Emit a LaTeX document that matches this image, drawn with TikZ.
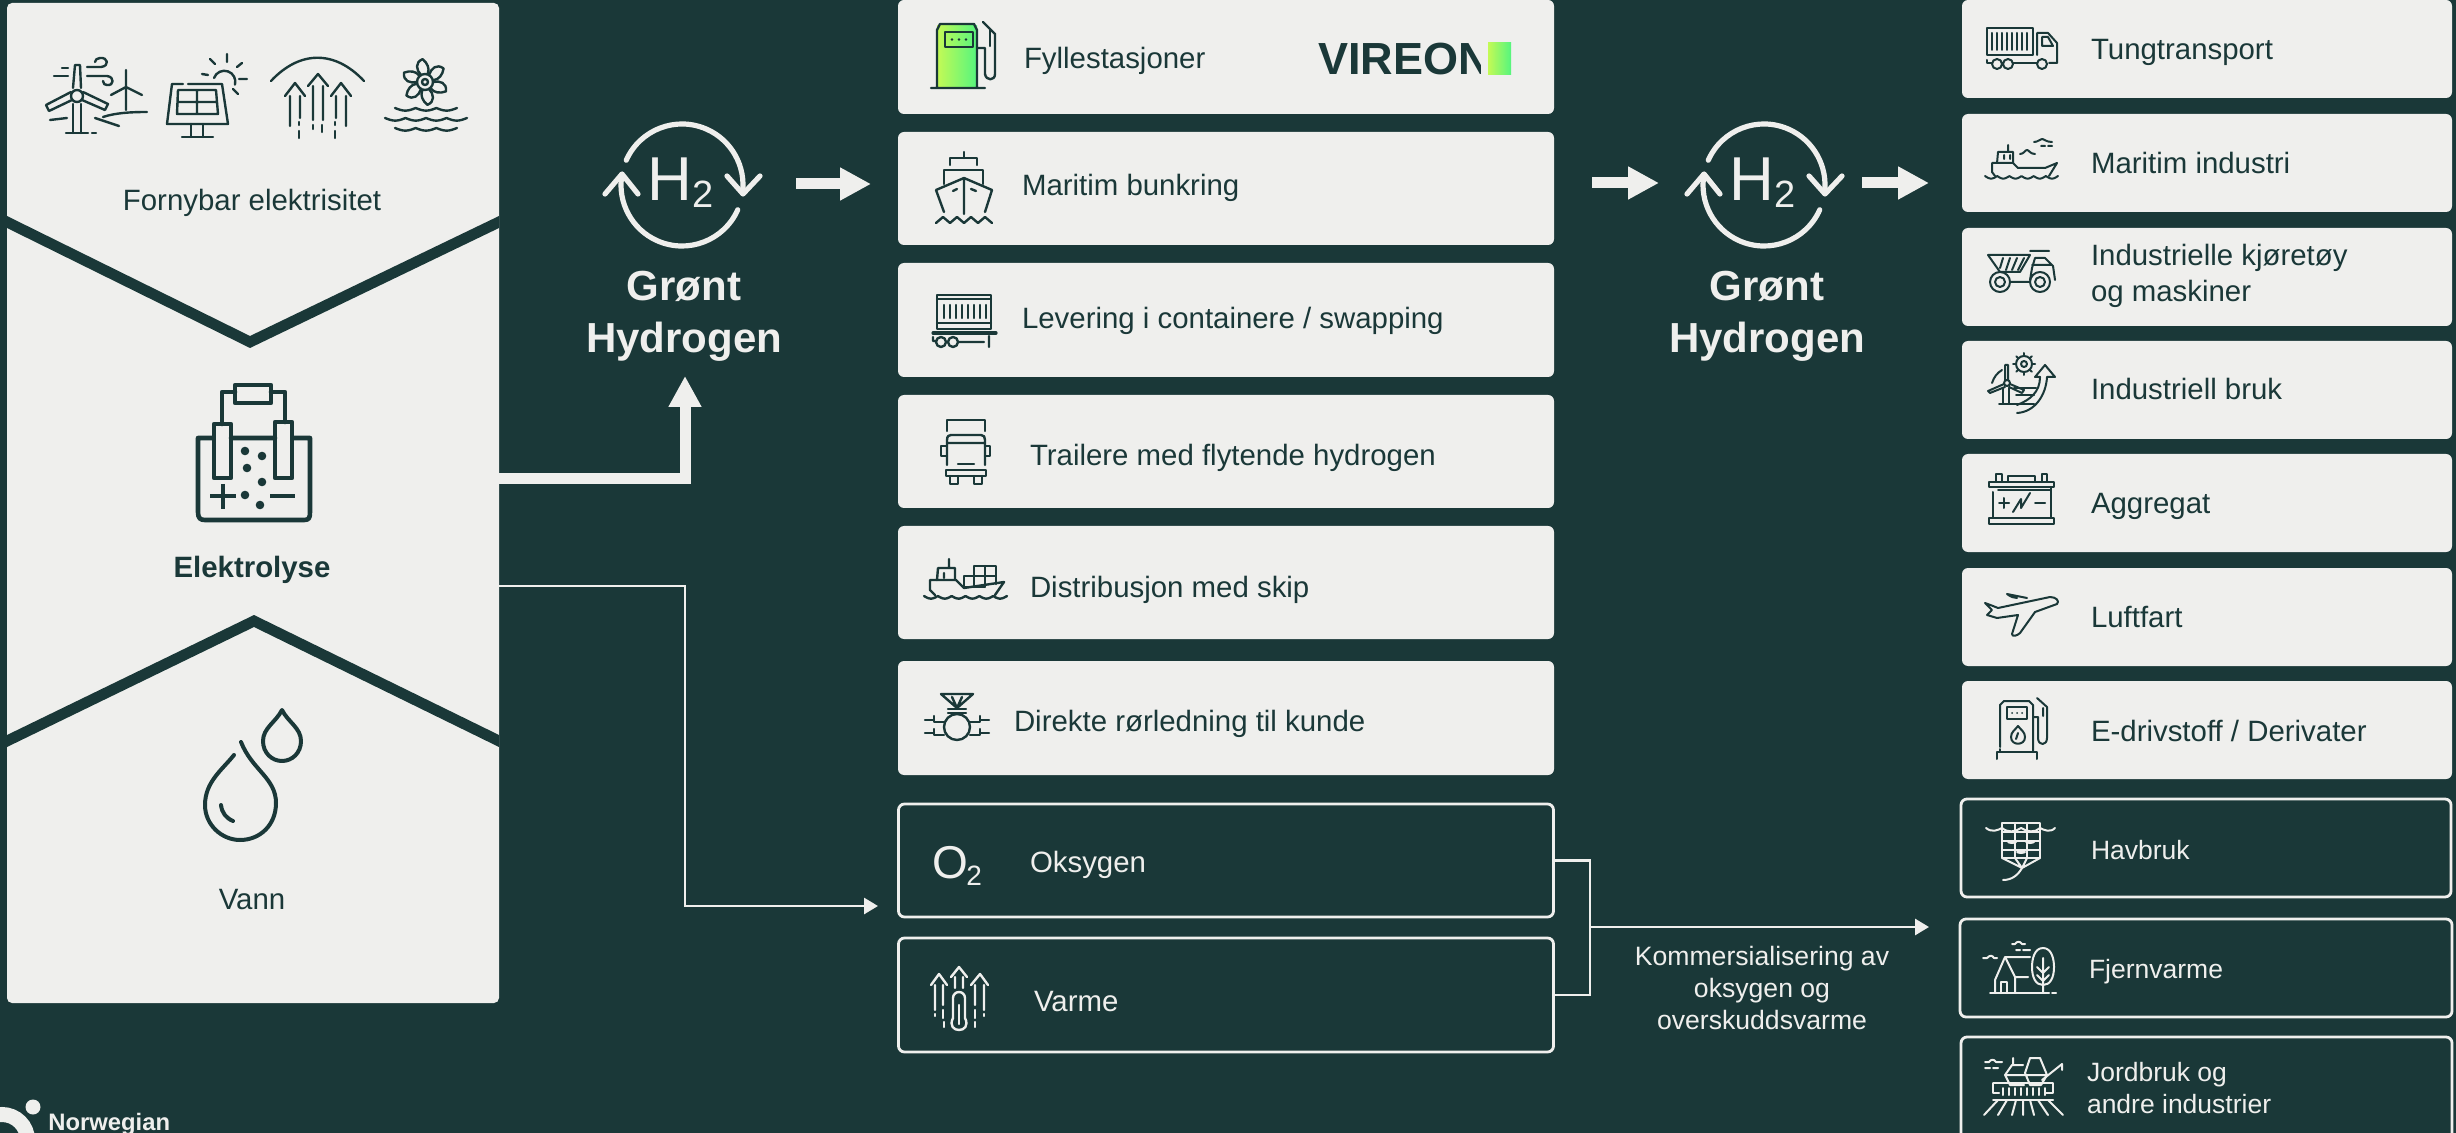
\documentclass[tikz,border=0pt]{standalone}
\usepackage{fontspec}
\setmainfont{Liberation Sans}
\usetikzlibrary{arrows.meta,calc,shapes.geometric}
\definecolor{ink}{HTML}{1A3838}
\definecolor{paper}{HTML}{EFEFED}
\definecolor{limeA}{HTML}{C4FA55}
\definecolor{limeB}{HTML}{55F57E}
\newcommand\fpx[1]{\fontsize{#1}{#1}\selectfont}
\newcommand\wavy[5]{\draw[#1] plot[domain=#2:#3,samples=90] (\x,{#4+2.6*abs(sin(180*#5/(#3-#2)*(\x-#2)))});}
\tikzset{
  lbox/.style={fill=paper,rounded corners=3pt,inner sep=0,outer sep=0,anchor=north west,minimum width=328pt},
  rbox/.style={fill=paper,rounded corners=3pt,inner sep=0,outer sep=0,anchor=north west,minimum width=245pt,minimum height=49pt},
  obox/.style={draw=paper,line width=1.4pt,rounded corners=3pt,inner sep=0,outer sep=0,anchor=north west},
  txt/.style={anchor=base west,inner sep=0,outer sep=0,text=ink,font=\fpx{14.7},yshift=-0.5pt},
  ltxt/.style={txt,text=paper},
  ctxt/.style={anchor=base,inner sep=0,outer sep=0,text=ink,font=\fpx{14.7},yshift=-0.4pt},
  htitle/.style={anchor=base,inner sep=0,outer sep=0,text=paper,font=\fpx{21}\bfseries,yshift=-0.5pt},
  dk/.style={draw=ink,line width=1.2pt,line cap=round,line join=round},
  lt/.style={draw=paper,line width=1.2pt,line cap=round,line join=round},
  hv/.style={draw=ink,line width=2.3pt,line cap=round,line join=round},
  bigarrow/.style={draw=paper,line width=5.5pt,-{Triangle[length=15.5pt,width=15.5pt,fill=paper]}},
  thinarrow/.style={draw=paper,line width=1.4pt,-{Triangle[length=7pt,width=8pt,fill=paper]}},
  thinline/.style={draw=paper,line width=1.4pt},
  cyc/.style={draw=paper,line width=2.6pt,line cap=round,line join=round},
}
\newcommand\hcycle[1]{%
 \begin{scope}[shift={(#1,0)}]
  \draw[cyc] (682,185) ++(204:61) arc[start angle=204,end angle=367.5,radius=61];
  \draw[cyc] (682,185) ++(24:61) arc[start angle=24,end angle=189.5,radius=61];
  \draw[cyc] (727,176) -- (743,194) -- (760,176);
  \draw[cyc] (605,194) -- (622,174) -- (638,194);
 \end{scope}}
\begin{document}
\begin{tikzpicture}[x=0.5pt,y=-0.5pt]
\useasboundingbox (0,0) rectangle (2456,1133);
\clip (0,0) rectangle (2456,1133);
\fill[ink] (0,0) rectangle (2456,1133);

%% left panel
\node[fill=paper,rounded corners=2.5pt,inner sep=0,outer sep=0,anchor=north west,minimum width=246pt,minimum height=500pt] (panel) at (7,3) {};
\fill[ink] (7,216) -- (250,336) -- (499,216) -- (499,228) -- (250,348) -- (7,228) -- cycle;
\fill[ink] (7,735) -- (254,615) -- (499,735) -- (499,747) -- (254,627) -- (7,747) -- cycle;
\node[ctxt] (tfornybar) at (252,210) {Fornybar elektrisitet};
\node[ctxt,font=\fpx{14.7}\bfseries] (telektrolyse) at (252,577) {Elektrolyse};
\node[ctxt] (tvann) at (252,909) {Vann};

%% wind
\draw[dk] (73,88) -- (75,65) -- (80,65) -- (81,88);
\draw[dk] (77,96) circle[radius=6];
\draw[dk] (73,104) -- (73,133) (81,104) -- (81,133) (66,133) -- (88,133) (92,133) -- (96,133);
\draw[dk] (71,92) -- (46,105) -- (49,111) -- (72,100);
\draw[dk] (83,92) -- (108,104) -- (105,110) -- (82,100);
\draw[dk] (54,76) -- (68,76) (62,68) -- (68,68);
\draw[dk] (87,67) -- (101,67) .. controls (110,66) and (108,57) .. (100,58) .. controls (97,58) and (95,60) .. (95,62);
\draw[dk] (87,76) -- (107,76) .. controls (115,77) and (114,86) .. (107,85) .. controls (105,85) and (103,84) .. (103,81);
\draw[dk] (126,70) -- (126,110) (126,87) -- (111,95) (126,87) -- (142,95);
\draw[dk] (103,117) .. controls (115,113) and (130,112) .. (147,112) (95,118) -- (119,126) (50,120) -- (67,118);
%% solar
\draw[dk] (183,84) -- (172,84) -- (167,124) -- (228,124) -- (222,84) -- (188,84);
\draw[dk] (178,90) -- (216,90) -- (218,114) -- (177,114) -- cycle (197,90) -- (197,114) (178,102) -- (217,102);
\draw[dk] (191,124) -- (191,137) (203,124) -- (203,137) (182,137) -- (213,137);
\draw[dk] (214,78) arc[start angle=200,end angle=375,radius=11];
\draw[dk] (210,59) -- (215,64) (227,54) -- (227,62) (242,63) -- (237,67) (247,79) -- (239,79) (238,94) -- (233,89) (202,74) -- (208,75);
%% geothermal
\draw[dk] (271,81) .. controls (300,50) and (335,50) .. (364,81);
\draw[dk] (285,96) -- (295,83) -- (305,96) (290,96) -- (290,126) (300,96) -- (300,118);
\draw[dk] (308,86) -- (318,74) -- (328,86) (313,86) -- (313,120) (323,86) -- (323,120);
\draw[dk] (331,96) -- (341,83) -- (351,96) (336,96) -- (336,118) (346,96) -- (346,126);
\draw[dk] (299,122) -- (299,125) (299,131) -- (299,138) (313,125) -- (313,129) (322,125) -- (322,132) (335,122) -- (335,125) (335,131) -- (335,138);
%% hydro
\draw[dk] (425,82) circle[radius=3] (425,82) circle[radius=8];
\foreach \a in {0,60,...,300}{
  \draw[dk] ($(425,82)+(\a:8)$) .. controls ($(425,82)+(\a-6:15)$) and ($(425,82)+(\a+2:22)$) .. ($(425,82)+(\a+24:23)$) .. controls ($(425,82)+(\a+38:19)$) and ($(425,82)+(\a+50:14)$) .. ($(425,82)+(\a+48:9)$);
}
\wavy{dk}{395}{457}{108}{3}
\wavy{dk}{385}{467}{118}{4}
\wavy{dk}{395}{457}{128}{3}
%% electrolysis
\draw[hv] (213,438) -- (198,438) -- (198,512) .. controls (198,518) and (200,520) .. (205,520) -- (304,520) .. controls (309,520) and (310,518) .. (310,512) -- (310,438) -- (293,438) (231,438) -- (275,438);
\draw[hv] (214,424) rectangle (231,478) (275,422) rectangle (292,478);
\draw[hv] (222,424) -- (222,392) -- (235,392) (285,422) -- (285,392) -- (271,392);
\draw[hv] (235,385) rectangle (271,403);
\foreach \p in {(245,451),(262,456),(247,468),(262,482),(245,495),(260,505)} \fill[ink] \p circle[radius=4.3];
\draw[hv,line cap=butt] (210,496) -- (236,496) (223,484) -- (223,509) (270,496) -- (295,496);
%% drops
\draw[hv,line width=2pt] (234,755) .. controls (222,770) and (205,782) .. (205,805) .. controls (205,825) and (222,840) .. (240,840) .. controls (260,840) and (276,825) .. (276,803) .. controls (276,778) and (252,770) .. (241,742);
\draw[hv,line width=2pt] (221,805) .. controls (222,813) and (226,818) .. (233,821);
\draw[hv,line width=2pt] (282,710) .. controls (276,722) and (263,728) .. (263,741) .. controls (263,753) and (272,761) .. (282,761) .. controls (292,761) and (301,753) .. (301,741) .. controls (301,728) and (288,722) .. (282,710) -- cycle;

%% hydrogen symbols
\hcycle{0}
\hcycle{1082}
\node[anchor=base west,inner sep=0,text=paper,font=\fpx{31}] (ha) at (647,201) {H};
\node[anchor=base west,inner sep=0,text=paper,font=\fpx{19}] (hb) at (692,208) {2};
\node[anchor=base west,inner sep=0,text=paper,font=\fpx{31}] (hc) at (1729,201) {H};
\node[anchor=base west,inner sep=0,text=paper,font=\fpx{19}] (hd) at (1774,208) {2};
\node[htitle] (ga) at (684,300) {Grønt};
\node[htitle] (gb) at (684,352) {Hydrogen};
\node[htitle] (gc) at (1767,300) {Grønt};
\node[htitle] (gd) at (1767,352) {Hydrogen};

%% middle boxes
\node[lbox,minimum height=57pt] (m1) at (898,0) {};
\node[lbox,minimum height=56.5pt] (m2) at (898,132) {};
\node[lbox,minimum height=57pt] (m3) at (898,263) {};
\node[lbox,minimum height=56.5pt] (m4) at (898,395) {};
\node[lbox,minimum height=56.5pt] (m5) at (898,526) {};
\node[lbox,minimum height=57pt] (m6) at (898,661) {};
\node[obox,minimum width=327.5pt,minimum height=56.5pt] (m7) at (898.5,804) {};
\node[obox,minimum width=327.5pt,minimum height=57pt] (m8) at (898.5,938) {};
\node[txt] (t1) at (1024,68) {Fyllestasjoner};
\node[txt] (t2) at (1022,195) {Maritim bunkring};
\node[txt] (t3) at (1022,328) {Levering i containere / swapping};
\node[txt] (t4) at (1030,465) {Trailere med flytende hydrogen};
\node[txt] (t5) at (1030,596) {Distribusjon med skip};
\node[txt] (t6) at (1014,730) {Direkte rørledning til kunde};
\node[ltxt] (t7) at (1030,871) {Oksygen};
\node[ltxt] (t8) at (1034,1010) {Varme};
\node[anchor=base west,inner sep=0,text=paper,font=\fpx{23}] (o2a) at (932,878) {O};
\node[anchor=base west,inner sep=0,text=paper,font=\fpx{14}] (o2b) at (966,885) {2};
%% vireon
\node[anchor=base west,inner sep=0,text=ink,font=\fpx{22.5}\bfseries] (vir) at (1318,75) {VIREON};
\fill[paper] (1481,40) rectangle (1520,80);
\shade[left color=limeA,right color=limeB] (1488,43) rectangle (1511,75);

%% pump green
\shade[left color=limeA,right color=limeB] (937,26) rectangle (977,87);
\draw[dk] (937,87) -- (937,30) -- (940,24) -- (974,24) -- (977,30) -- (977,87) (931,88) -- (985,88);
\draw[dk] (945,32) rectangle (973,47);
\fill[ink] (952,39.5) circle[radius=1.3] (959,39.5) circle[radius=1.3] (966,39.5) circle[radius=1.3];
\draw[dk] (977,48) -- (985,48) -- (985,74) .. controls (986,81) and (995,81) .. (995,74) -- (995,34) -- (983,22);
\draw[dk] (990,30) -- (990,46);
%% ship front
\draw[dk] (964,152) -- (964,158) (950,165) -- (950,158) -- (977,158) -- (977,165);
\draw[dk] (944,184) -- (944,170) -- (983,170) -- (983,184);
\draw[dk] (944,212) -- (936,190) -- (964,178) -- (992,190) -- (985,212) (964,178) -- (964,214);
\draw[dk] (953,191) -- (957,189) (971,189) -- (976,191);
\draw[dk] (936,223) -- (943,217) -- (950,223) -- (957,217) -- (964,223) -- (971,217) -- (978,223) -- (985,217) -- (992,223);
%% container
\draw[dk] (937,295) rectangle (991,329) (937,299) -- (991,299) (937,323) -- (991,323);
\foreach \x in {944,950,...,986} \draw[dk] (\x,305) -- (\x,318);
\draw[dk,line width=1.6pt] (933,333) -- (996,333);
\draw[dk] (941,342) circle[radius=5] (953,342) circle[radius=5] (959,342) -- (984,342) (989,336) -- (989,347) (933,337) -- (933,341) -- (936,341);
%% truck front
\draw[dk] (947,431) -- (947,420) -- (985,420) -- (985,431);
\draw[dk] (947,465) -- (947,440) .. controls (947,436) and (949,435) .. (951,435) -- (981,435) .. controls (984,435) and (985,437) .. (985,440) -- (985,465) (947,443) -- (985,443);
\draw[dk] (947,446) -- (941,446) -- (941,456) -- (947,456) (985,446) -- (990,446) -- (990,456) -- (985,456);
\draw[dk] (958,464) -- (974,464);
\draw[dk] (946,470) rectangle (986,476);
\draw[dk] (950,476) -- (950,484) -- (958,484) -- (958,476) (974,476) -- (974,484) -- (982,484) -- (982,476);
%% cargo ship
\draw[dk] (949,559) -- (949,568) (937,580) -- (938,568) -- (955,568) -- (955,580) (944,573) -- (944,578);
\draw[dk] (930,580) -- (956,580) -- (964,588) -- (1004,582) -- (995,595) (930,580) -- (930,590) -- (935,595);
\draw[dk] (964,576) rectangle (985,587) (974,566) rectangle (996,576) (985,576) -- (996,576) -- (996,584) (974,566) -- (974,587) (985,566) -- (985,587);
\wavy{dk}{924}{1007}{596}{6}
%% valve
\draw[dk] (941,694) -- (973,694) -- (957,708) -- cycle (952,697) -- (957,708) -- (962,697);
\draw[dk] (948,709) -- (966,709) (948,713) -- (966,713);
\draw[dk] (957,727) ellipse[x radius=13,y radius=13];
\draw[dk] (925,720) -- (934,720) (934,716) -- (934,722) -- (944,722) (925,733) -- (934,733) (934,729) -- (934,735) -- (944,735);
\draw[dk] (989,720) -- (980,720) (980,716) -- (980,722) -- (970,722) (989,733) -- (980,733) (980,729) -- (980,735) -- (970,735);
%% heat
\draw[lt] (931,985) -- (939,974) -- (947,985) (935,985) -- (935,1010) (943,985) -- (943,1005);
\draw[lt] (951,977) -- (959,967) -- (967,977) (955,977) -- (955,988) (963,977) -- (963,988);
\draw[lt] (971,985) -- (980,974) -- (988,985) (975,985) -- (975,1005) (984,985) -- (984,1010);
\draw[lt] (935,1014) -- (935,1016) (943,1010) -- (943,1018) (984,1014) -- (984,1016) (975,1010) -- (975,1018) (944,1022) -- (944,1027) (975,1022) -- (975,1027);
\draw[lt] (953,1018) -- (953,998) arc[start angle=180,end angle=360,radius=6] -- (965,1018);
\draw[lt] (953,1018) .. controls (945,1034) and (973,1034) .. (965,1018);
\draw[lt] (959,1005) -- (959,1024);

%% right boxes
\node[rbox] (r1) at (1962,0) {};
\node[rbox] (r2) at (1962,114) {};
\node[rbox] (r3) at (1962,228) {};
\node[rbox] (r4) at (1962,341) {};
\node[rbox] (r5) at (1962,454) {};
\node[rbox] (r6) at (1962,568) {};
\node[rbox] (r7) at (1962,681) {};
\node[obox,minimum width=245pt,minimum height=49pt] (r8) at (1961,799) {};
\node[obox,minimum width=246pt,minimum height=49pt] (r9) at (1960,919) {};
\node[obox,minimum width=245.5pt,minimum height=70pt] (r10) at (1961,1037) {};
\node[txt] (s1) at (2091,59) {Tungtransport};
\node[txt] (s2) at (2091,173) {Maritim industri};
\node[txt] (s3a) at (2091,265) {Industrielle kjøretøy};
\node[txt] (s3b) at (2091,301) {og maskiner};
\node[txt] (s4) at (2091,399) {Industriell bruk};
\node[txt] (s5) at (2091,513) {Aggregat};
\node[txt] (s6) at (2091,626) {Luftfart};
\node[txt] (s7) at (2091,740) {E-drivstoff / Derivater};
\node[ltxt,font=\fpx{13.25}] (s8) at (2091,858) {Havbruk};
\node[ltxt,font=\fpx{13.25}] (s9) at (2089,977) {Fjernvarme};
\node[ltxt,font=\fpx{13.25}] (s10a) at (2087,1080) {Jordbruk og};
\node[ltxt,font=\fpx{13.25}] (s10b) at (2087,1112) {andre industrier};

%% truck
\begin{scope}[dk/.append style={line width=1pt}]
\draw[dk] (1987,28) rectangle (2033,55);
\foreach \x in {1992,1997,...,2028} \draw[dk] (\x,33) -- (\x,50);
\draw[dk] (2037,55) -- (2037,33) -- (2048,33) -- (2057,43) -- (2057,63) -- (2049,63);
\draw[dk] (2042,37) -- (2048,37) -- (2053,46) -- (2042,46) -- cycle;
\draw[dk] (1997,64) circle[radius=5] (2008,64) circle[radius=5] (2042,64) circle[radius=5];
\draw[dk] (1987,60) -- (1987,63) -- (1992,63) (2013,63) -- (2037,63);
%% ship
\draw[dk] (1997,163) -- (1998,152) -- (2013,152) -- (2013,163) (2008,145) -- (2008,152) (2004,155) -- (2004,159) (2010,155) -- (2010,159);
\draw[dk] (1992,163) -- (2013,163) -- (2018,168) -- (2045,168) -- (2057,163) -- (2049,176) (1992,163) -- (1992,172) -- (1995,176);
\wavy{dk}{1985}{2058}{176}{6}
\draw[dk] (2020,154) .. controls (2024,154) and (2025,150) .. (2027,150) .. controls (2029,150) and (2030,154) .. (2035,154);
\draw[dk] (2034,142) .. controls (2038,142) and (2040,139) .. (2042,139) .. controls (2044,139) and (2046,142) .. (2052,142) (2041,146) -- (2045,146) (2048,146) -- (2052,146);
%% dump truck
\draw[dk] (1988,255) -- (2030,255) -- (2020,272) -- (2000,272) -- cycle (2030,251) -- (2049,251);
\draw[dk] (2003,258) -- (2000,268) (2010,258) -- (2006,270) (2017,258) -- (2012,270) (2024,258) -- (2018,270);
\draw[dk] (2032,268) -- (2035,258) -- (2045,258) -- (2053,266) -- (2055,280) (2032,265) -- (2052,265) (2032,268) -- (2030,280);
\draw[dk] (2000,282) circle[radius=10] (2000,282) circle[radius=5] (2040,282) circle[radius=10] (2040,282) circle[radius=5] (2010,282) -- (2030,282);
%% industrial
\draw[dk] (2024,364) circle[radius=3] (2024,364) circle[radius=8];
\foreach \a in {0,45,...,315} \draw[dk] ($(2024,364)+(\a:8)$) -- ($(2024,364)+(\a:11)$);
\draw[dk] (2005,380) -- (2005,365) -- (2008,365) -- (2008,380) (2007,383) circle[radius=3];
\draw[dk] (2004,384) -- (1988,391) -- (1990,393) -- (2005,387) (2010,384) -- (2024,390) -- (2022,393) -- (2009,387);
\draw[dk] (2003,388) -- (2003,403) (2009,388) -- (2009,403) (1999,404) -- (2034,404);
\draw[dk] (1992,383) .. controls (1994,377) and (1997,373) .. (2002,370);
\draw[dk] (2017,413) .. controls (2035,412) and (2046,395) .. (2047,377) (2040,377) .. controls (2040,392) and (2030,400) .. (2017,405);
\draw[dk] (2040,377) -- (2035,377) -- (2045,365) -- (2055,377) -- (2047,377);
\draw[dk] (2014,388) -- (2036,388) (2016,395) -- (2034,395);
%% battery
\draw[dk] (1989,482) rectangle (2054,487) (1989,518) rectangle (2054,524);
\draw[dk] (2008,482) -- (2008,476) -- (2035,476) -- (2035,482) (1996,482) -- (1996,474) -- (2002,474) -- (2002,482) (2042,482) -- (2042,474) -- (2047,474) -- (2047,482);
\draw[dk] (1993,492) -- (1993,518) (2051,487) -- (2051,518) (1998,490) -- (2050,490);
\draw[dk] (1999,503) -- (2009,503) (2004,498) -- (2004,508) (2035,503) -- (2045,503);
\draw[dk] (2013,512) -- (2021,499) -- (2021,508) -- (2030,493);
%% plane
\draw[dk] (1985,603) -- (1993,606) -- (1998,608) -- (2050,597) .. controls (2056,597) and (2060,601) .. (2057,604) -- (2035,612) -- (2020,633) .. controls (2017,636) and (2012,637) .. (2012,634) -- (2018,615) -- (1997,618) -- (1987,615) -- (1992,610) -- cycle;
\draw[dk] (2007,594) -- (2027,598) (2007,594) .. controls (2011,597) and (2014,598) .. (2017,598);
%% pump
\draw[dk] (2000,747) -- (2000,705) -- (2004,701) -- (2029,701) -- (2033,705) -- (2033,752);
\draw[dk] (1997,759) -- (1997,752) -- (2037,752) -- (2037,759) (2000,752) -- (2000,749);
\draw[dk] (2007,707) rectangle (2027,719);
\fill[ink] (2012,713) circle[radius=1] (2017,713) circle[radius=1] (2022,713) circle[radius=1];
\draw[dk] (2018,726) .. controls (2015,730) and (2011,732) .. (2011,737) .. controls (2011,746) and (2025,746) .. (2025,737) .. controls (2025,732) and (2021,730) .. (2018,726) -- cycle (2018,733) -- (2016,739);
\draw[dk] (2033,717) -- (2038,717) -- (2038,738) .. controls (2038,746) and (2047,746) .. (2047,738) -- (2047,707) -- (2037,698) (2043,708) -- (2043,716);
\end{scope}
%% fish farm
\begin{scope}[lt/.append style={line width=1pt}]
\draw[lt] (2002,823) -- (2002,858) -- (2040,858) -- (2040,823) -- cycle;
\draw[lt] (2002,832) -- (2040,832) (2002,850) -- (2040,850) (2002,841) -- (2040,841) (2015,823) -- (2015,858) (2027,823) -- (2027,858);
\draw[lt] (2002,858) -- (2022,868) -- (2040,858) (2015,858) -- (2022,868) -- (2027,858);
\draw[lt] (2022,868) .. controls (2018,875) and (2012,880) .. (2003,880);
\draw[lt] (1986,828) .. controls (1992,833) and (1998,830) .. (2002,828) (2002,828) .. controls (2008,833) and (2015,832) .. (2021,828) .. controls (2027,832) and (2035,833) .. (2040,828) .. controls (2044,830) and (2050,833) .. (2055,828);
\fill[paper] (2012,842) ellipse[x radius=5,y radius=2] (2030,842) ellipse[x radius=5,y radius=2] (2021,852) ellipse[x radius=5,y radius=2];
%% house
\draw[lt] (1995,993) -- (1995,980) -- (2005,957) -- (2015,977) -- (2015,993) (2005,957) -- (2030,957) (2015,977) -- (2028,977);
\draw[lt] (2001,993) -- (2001,982) -- (2007,982) -- (2007,993) (1990,993) -- (2049,993) (2052,993) -- (2056,993);
\draw[lt] (2043,948) .. controls (2034,948) and (2032,960) .. (2032,967) .. controls (2032,978) and (2036,985) .. (2043,985) .. controls (2050,985) and (2054,978) .. (2054,967) .. controls (2054,960) and (2052,948) .. (2043,948) -- cycle;
\draw[lt] (2043,958) -- (2043,993) (2037,967) -- (2043,973) -- (2049,967) (2037,975) -- (2043,981) -- (2049,975);
\draw[lt] (1983,958) -- (1987,958) .. controls (1990,955) and (1992,955) .. (1994,958) -- (1997,958);
\draw[lt] (2012,944) -- (2015,944) .. controls (2017,941) and (2020,941) .. (2022,944) -- (2025,944) (2016,950) -- (2020,950) (2023,950) -- (2030,950);
%% farm
\draw[lt] (1985,1062) -- (1989,1062) .. controls (1991,1059) and (1994,1059) .. (1996,1062) -- (2002,1062) (1985,1068) -- (1990,1068) (1993,1068) -- (1998,1068);
\draw[lt] (2030,1058) -- (2040,1058) -- (2047,1075) -- (2041,1085) -- (2030,1085) -- (2025,1073) -- cycle (2025,1075) -- (2047,1075);
\draw[lt] (2023,1065) -- (2012,1065) -- (2005,1075) -- (2010,1085) -- (2024,1085) (2013,1058) -- (2013,1065) (2005,1075) -- (2025,1075);
\draw[lt] (2042,1080) -- (2062,1064) -- (2062,1070);
\draw[lt] (1993,1083) -- (2053,1083) -- (2053,1093) -- (2046,1093) (1993,1083) -- (1993,1093) -- (1999,1093);
\foreach \x in {2003,2009,...,2045} \draw[lt] (\x,1088) -- (\x,1095);
\draw[lt] (1993,1100) -- (2053,1100);
\draw[lt] (1998,1100) -- (1984,1115) (2007,1100) -- (1998,1115) (2016,1100) -- (2012,1115) (2023,1100) -- (2023,1115) (2030,1100) -- (2034,1115) (2038,1100) -- (2048,1115) (2048,1100) -- (2063,1115);
\end{scope}

%% connectors
\coordinate (pa) at (499,479);
\coordinate (pb) at (499,586);
\coordinate (h1in) at (685,376);
\coordinate (oxin) at (878,906);
\coordinate (h1oa) at (796,184);
\coordinate (h1ob) at (871,184);
\coordinate (h2ia) at (1592,183);
\coordinate (h2ib) at (1659,183);
\coordinate (h2oa) at (1862,183);
\coordinate (h2ob) at (1929,183);
\coordinate (bus) at (1590,927);
\coordinate (busout) at (1929,927);
\coordinate (oxcorner) at (685,906);
\draw[bigarrow] (pa) -| (h1in);
\draw[thinarrow] (pb) -| (oxcorner) -- (oxin);
\draw[bigarrow] (h1oa) -- (h1ob);
\draw[bigarrow] (h2ia) -- (h2ib);
\draw[bigarrow] (h2oa) -- (h2ob);
\draw[thinline] (m7.east) -| (bus) |- (m8.east);
\draw[thinarrow] (bus) -- (busout);
\node[anchor=base,inner sep=0,text=paper,font=\fpx{13.3}] (ka) at (1762,965) {Kommersialisering av};
\node[anchor=base,inner sep=0,text=paper,font=\fpx{13.3}] (kb) at (1762,997) {oksygen og};
\node[anchor=base,inner sep=0,text=paper,font=\fpx{13.3}] (kc) at (1762,1029) {overskuddsvarme};

%% logo
\draw[paper,line width=7.5pt] (2,1140) circle[radius=25.5];
\fill[paper] (33,1107) circle[radius=7.5];
\node[anchor=base west,inner sep=0,text=paper,font=\fpx{11.9}\bfseries] (nor) at (48,1130) {Norwegian};
\end{tikzpicture}
\end{document}
